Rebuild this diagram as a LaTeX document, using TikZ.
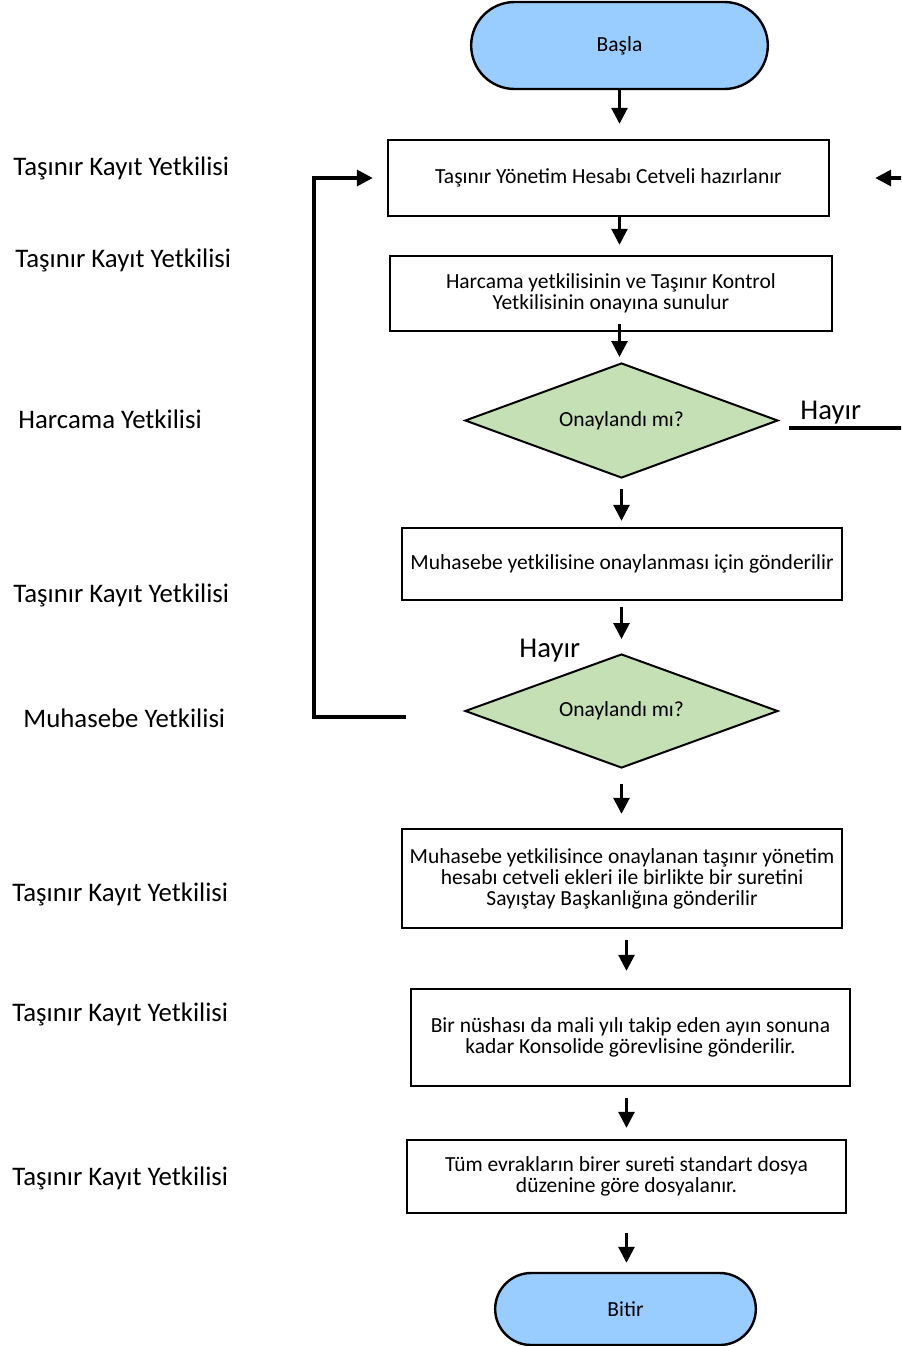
\documentclass[tikz,border=0pt]{standalone}
\usepackage{fontspec}
\setmainfont{Carlito}
\usetikzlibrary{shapes.geometric,shapes.misc,arrows.meta,calc}
\definecolor{termblue}{HTML}{99CCFF}
\definecolor{decgreen}{HTML}{C5E0B4}

\begin{document}
\begin{tikzpicture}[x=0.5pt,y=-0.5pt,
  boxtxt/.style={font=\fontsize{10.75}{10.5}\selectfont},
  process/.style={draw, line width=1.2pt, fill=white, align=center, inner sep=0pt, boxtxt},
  terminal/.style={rounded rectangle, draw, line width=1.2pt, fill=termblue, boxtxt},
  decision/.style={diamond, draw, line width=1pt, fill=decgreen, aspect=2.72, inner sep=0pt, boxtxt},
  flow/.style={-{Triangle[length=8pt,width=8pt]}, line width=1.4pt},
  backline/.style={line width=1.7pt, -{Triangle[length=8pt,width=8pt]}},
  role/.style={anchor=base west, inner sep=0pt, font=\fontsize{13.4}{15}\selectfont},
  nolabel/.style={anchor=base west, inner sep=0pt, font=\fontsize{14.35}{16}\selectfont},
]
\useasboundingbox (0,0) rectangle (901,1346);
\clip (0,0) rectangle (901,1346);

% flow steps
\node[terminal, minimum width=155pt, minimum height=43.5pt] (start) at (619.5,45.5) {Başla};
\node[process, minimum width=220.5pt, minimum height=38pt] (box1) at (608.5,178)
  {Taşınır Yönetim Hesabı Cetveli hazırlanır};
\node[process, minimum width=221pt, minimum height=37.5pt] (box2) at (611,293.5)
  {Harcama yetkilisinin ve Taşınır Kontrol\\Yetkilisinin onayına sunulur};
\node[decision, minimum width=156.5pt, minimum height=57.5pt] (dec1) at (621.5,420.5) {Onaylandı mı?};
\node[process, minimum width=220pt, minimum height=36pt] (box3) at (622,564)
  {Muhasebe yetkilisine onaylanması için gönderilir};
\node[decision, minimum width=156.5pt, minimum height=57pt] (dec2) at (621.5,711) {Onaylandı mı?};
\node[process, minimum width=220pt, minimum height=49.5pt] (box4) at (622,878.5)
  {Muhasebe yetkilisince onaylanan taşınır yönetim\\hesabı cetveli ekleri ile birlikte bir suretini\\Sayıştay Başkanlığına gönderilir};
\node[process, minimum width=219.5pt, minimum height=48.5pt] (box5) at (630.5,1037.5)
  {Bir nüshası da mali yılı takip eden ayın sonuna\\kadar Konsolide görevlisine gönderilir.};
\node[process, minimum width=219.5pt, minimum height=36.5pt] (box6) at (626.5,1176.5)
  {Tüm evrakların birer sureti standart dosya\\düzenine göre dosyalanır.};
\node[terminal, minimum width=137pt, minimum height=36pt] (stop) at (625.5,1309) {Bitir};

% responsible roles
\node[role] (r1) at (13,175) {Taşınır Kayıt Yetkilisi};
\node[role] (r2) at (15,267) {Taşınır Kayıt Yetkilisi};
\node[role] (r3) at (18,428) {Harcama Yetkilisi};
\node[role] (r4) at (13,602) {Taşınır Kayıt Yetkilisi};
\node[role] (r5) at (23,727) {Muhasebe Yetkilisi};
\node[role] (r6) at (12,901) {Taşınır Kayıt Yetkilisi};
\node[role] (r7) at (12,1021) {Taşınır Kayıt Yetkilisi};
\node[role] (r8) at (12,1185) {Taşınır Kayıt Yetkilisi};

% rejection labels
\node[nolabel] (no1) at (800,419) {Hayır};
\node[nolabel] (no2) at (519,657) {Hayır};

% main flow
\draw[flow, shorten >=7.5pt] (start.south) -- (start.south |- box1.north);
\draw[flow, shorten >=5pt] (box1.south -| start.south) -- (box2.north -| start.south);
\draw[flow, shorten <=-4pt, shorten >=2.5pt] (box2.south -| start.south) -- (dec1.north -| start.south);
\draw[flow, shorten <=5pt, shorten >=3pt] (dec1.south) -- (dec1.south |- box3.north);
\draw[flow, shorten <=3pt, shorten >=7pt] (dec2.north |- box3.south) -- (dec2.north);
\draw[flow, shorten <=7.5pt, shorten >=7pt] (dec2.south) -- (dec2.south |- box4.north);
\draw[flow, shorten <=5.5pt, shorten >=8.5pt] (box4.south -| box6.north) -- (box5.north -| box6.north);
\draw[flow, shorten <=5.5pt, shorten >=5.5pt] (box5.south -| box6.north) -- (box6.north);
\draw[flow, shorten <=9.5pt, shorten >=4.5pt] (box6.south) -- (box6.south |- stop.north);

% return paths after rejection
\draw[backline, shorten >=7pt] ($(dec2.west)+(-58,6)$) -- ++(-92,0) |- (box1.west);
\draw[backline, shorten >=22.5pt] ($(dec1.east)+(10,7.5)$) -- ++(140,0) |- (box1.east);
\end{tikzpicture}
\end{document}
